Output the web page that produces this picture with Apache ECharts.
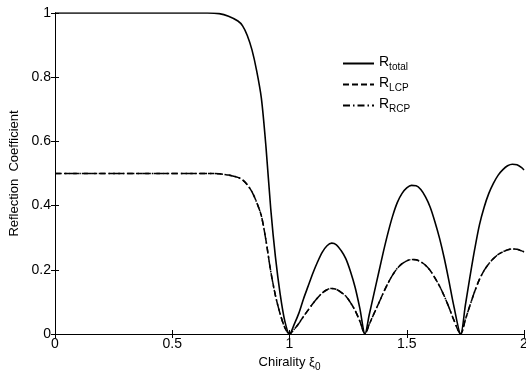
<!DOCTYPE html>
<html>
<head>
<meta charset="utf-8">
<script src="https://cdn.jsdelivr.net/npm/echarts@6/dist/echarts.min.js"></script>
<style>
  html, body { margin: 0; padding: 0; background: #fff; }
  #chart { width: 526px; height: 379px; }
</style>
</head>
<body>
<div id="chart"></div>
<script>
// chirality values (x axis)
const chirality = [
    0, 0.1, 0.2, 0.3, 0.4, 0.5, 0.6, 0.65, 0.7, 0.74, 0.78, 0.8, 0.82, 0.84, 0.86, 0.88, 0.9, 0.92, 0.94, 0.96, 0.98, 1.0,
    1.02, 1.04, 1.06, 1.08, 1.1, 1.12, 1.14, 1.16, 1.18, 1.2, 1.22, 1.24, 1.26, 1.28, 1.3, 1.322,
    1.34, 1.36, 1.38, 1.4, 1.42, 1.44, 1.46, 1.48, 1.5, 1.52, 1.54, 1.56, 1.58, 1.6, 1.62, 1.64, 1.66, 1.68, 1.7, 1.73,
    1.75, 1.77, 1.79, 1.81, 1.83, 1.85, 1.87, 1.89, 1.91, 1.93, 1.95, 1.97, 1.99, 2.0
]
const rTotal = [
    1, 1, 1, 1, 1, 1, 1, 1, 0.998, 0.99, 0.975, 0.96, 0.93, 0.885, 0.82, 0.735, 0.58, 0.39, 0.24, 0.125, 0.04, 0,
    0.03, 0.065, 0.11, 0.15, 0.19, 0.225, 0.255, 0.275, 0.283, 0.278, 0.26, 0.235, 0.195, 0.145, 0.08, 0,
    0.06, 0.125, 0.19, 0.255, 0.315, 0.368, 0.41, 0.438, 0.455, 0.463, 0.462, 0.45, 0.427, 0.395, 0.35, 0.298, 0.236, 0.165, 0.09, 0,
    0.09, 0.18, 0.265, 0.34, 0.395, 0.438, 0.47, 0.495, 0.512, 0.524, 0.529, 0.527, 0.518, 0.511
]
const rLCP = [
    0.5, 0.5, 0.5, 0.5, 0.5, 0.5, 0.5, 0.5, 0.499, 0.495, 0.488, 0.48, 0.465, 0.443, 0.41, 0.368, 0.29, 0.195, 0.12, 0.063, 0.02, 0,
    0.015, 0.033, 0.055, 0.075, 0.095, 0.113, 0.128, 0.138, 0.142, 0.139, 0.13, 0.118, 0.098, 0.073, 0.04, 0,
    0.03, 0.063, 0.095, 0.128, 0.158, 0.184, 0.205, 0.219, 0.228, 0.232, 0.231, 0.225, 0.214, 0.198, 0.175, 0.149, 0.118, 0.083, 0.045, 0,
    0.045, 0.09, 0.133, 0.17, 0.198, 0.219, 0.235, 0.248, 0.256, 0.262, 0.265, 0.264, 0.259, 0.256
]
const rRCP = [
    0.5, 0.5, 0.5, 0.5, 0.5, 0.5, 0.5, 0.5, 0.499, 0.495, 0.488, 0.48, 0.465, 0.443, 0.41, 0.368, 0.29, 0.195, 0.12, 0.063, 0.02, 0,
    0.015, 0.033, 0.055, 0.075, 0.095, 0.113, 0.128, 0.138, 0.142, 0.139, 0.13, 0.118, 0.098, 0.073, 0.04, 0,
    0.03, 0.063, 0.095, 0.128, 0.158, 0.184, 0.205, 0.219, 0.228, 0.232, 0.231, 0.225, 0.214, 0.198, 0.175, 0.149, 0.118, 0.083, 0.045, 0,
    0.045, 0.09, 0.133, 0.17, 0.198, 0.219, 0.235, 0.248, 0.256, 0.262, 0.265, 0.264, 0.259, 0.256
]
const seriesNames = ['R_total', 'R_LCP', 'R_RCP']
const subscripts = { R_total: 'total', R_LCP: 'LCP', R_RCP: 'RCP' }

const pairs = (ys) => chirality.map((x, i) => [x, ys[i]])
const font = "'Liberation Sans', Arial, sans-serif"

const chart = echarts.init(document.getElementById('chart'), null, { renderer: 'canvas' })

const frameAxis = {
    show: true,
    min: 0,
    interval: 0.2,
    axisLine: { show: true, lineStyle: { color: '#000', width: 1 } },
    axisTick: { show: true, inside: true, length: 4, lineStyle: { color: '#000' } },
    splitLine: { show: false },
}

chart.setOption({
    animation: false,
    grid: { left: 55, right: 2, top: 13, bottom: 45, outerBoundsMode: 'none', containLabel: false },
    legend: {
        orient: 'vertical',
        left: 337,
        top: 50,
        itemWidth: 31,
        itemHeight: 12,
        itemGap: 4,
        data: seriesNames,
        itemStyle: { opacity: 0, color: 'transparent', borderWidth: 0 },
        formatter: (name) => '{r|R}{s|' + subscripts[name] + '}',
        textStyle: {
            fontFamily: font,
            color: '#000',
            rich: {
                r: { fontSize: 14, fontFamily: font, color: '#000', lineHeight: 17, verticalAlign: 'top' },
                s: { fontSize: 10, fontFamily: font, color: '#000', lineHeight: 11, padding: [7, 0, 0, 0], verticalAlign: 'top' },
            },
        },
    },
    xAxis: [
        {
            type: 'value',
            min: 0,
            max: 2,
            interval: 0.5,
            name: '{a|Chirality ξ}{s|0}',
            nameLocation: 'middle',
            nameGap: 22,
            nameTextStyle: {
                rich: {
                    a: { fontSize: 13, fontFamily: font, color: '#000', lineHeight: 15, verticalAlign: 'top' },
                    s: { fontSize: 10, fontFamily: font, color: '#000', lineHeight: 11, padding: [6, 0, 0, 0], verticalAlign: 'top' },
                },
            },
            axisLine: { show: true, lineStyle: { color: '#000', width: 1 } },
            axisTick: { show: true, inside: true, length: 4, lineStyle: { color: '#000' } },
            axisLabel: { color: '#000', fontSize: 14, fontFamily: font, margin: 3 },
            splitLine: { show: false },
        },
        {
            type: 'value',
            position: 'top',
            min: 0,
            max: 2,
            interval: 0.5,
            axisLine: { show: true, lineStyle: { color: '#000', width: 1 } },
            axisTick: { show: true, inside: true, length: 4, lineStyle: { color: '#000' } },
            axisLabel: { show: false },
            splitLine: { show: false },
        },
    ],
    yAxis: [
        Object.assign({}, frameAxis, {
            type: 'value',
            max: 1,
            name: 'Reflection  Coefficient',
            nameLocation: 'middle',
            nameGap: 34,
            nameTextStyle: { fontSize: 13, fontFamily: font, color: '#000' },
            axisLabel: {
                color: '#000', fontSize: 14, fontFamily: font, margin: 4,
                formatter: (v) => String(Math.round(v * 10) / 10),
            },
        }),
        Object.assign({}, frameAxis, {
            type: 'value',
            position: 'right',
            max: 1,
            axisLabel: { show: false },
        }),
    ],
    series: [
        {
            name: 'R_total',
            type: 'line',
            data: pairs(rTotal),
            symbol: 'none',
            smooth: 0.3,
            lineStyle: { color: '#000', width: 1.6, type: 'solid' },
            itemStyle: { color: '#000' },
        },
        {
            name: 'R_LCP',
            type: 'line',
            data: pairs(rLCP),
            symbol: 'none',
            smooth: 0.3,
            lineStyle: { color: '#000', width: 1.5, type: [6, 3] },
            itemStyle: { color: '#000' },
        },
        {
            name: 'R_RCP',
            type: 'line',
            data: pairs(rRCP),
            symbol: 'none',
            smooth: 0.3,
            lineStyle: { color: '#000', width: 1.5, type: [7, 3, 1.5, 3] },
            itemStyle: { color: '#000' },
        },
    ],
})
</script>
</body>
</html>
